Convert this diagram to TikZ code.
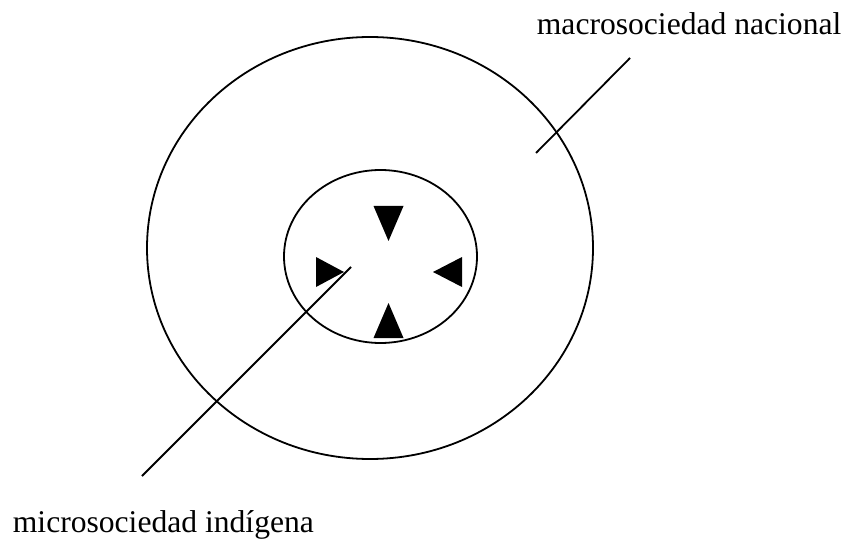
\documentclass[tikz,border=0pt]{standalone}
\usepackage{fontspec}
\setmainfont{Liberation Serif}

\begin{document}
\begin{tikzpicture}[x=1pt, y=-1pt, line width=1.8pt]
  \useasboundingbox (0,0) rectangle (846,540);
  \pgfmathsetmacro{\cx}{388.5}
  \pgfmathsetmacro{\cy}{272}
  \draw (370,248) ellipse (223pt and 211pt);
  \draw (380.5,256.5) ellipse (96.5pt and 86.5pt);
  \foreach \a/\d/\l in {0/44.5/29, 90/31/35, 180/44.5/28, 270/31/35}
    \fill[shift={(\cx,\cy)}, rotate=\a]
      (\d pt,0) -- (\d pt+\l pt,15pt) -- (\d pt+\l pt,-15pt) -- cycle;
  \node[anchor=base west, inner sep=0pt, font=\fontsize{31.6}{38}\selectfont]
    (macro) at (536,35) {macrosociedad nacional};
  \node[anchor=base west, inner sep=0pt, font=\fontsize{31.6}{38}\selectfont]
    (micro) at (12,532) {microsociedad indígena};
  \coordinate (macroA) at (630,58);
  \coordinate (macroB) at (536,153);
  \coordinate (microA) at (142,476);
  \coordinate (microB) at (351,267);
  \draw (macroA) -- (macroB);
  \draw (microA) -- (microB);
\end{tikzpicture}
\end{document}
